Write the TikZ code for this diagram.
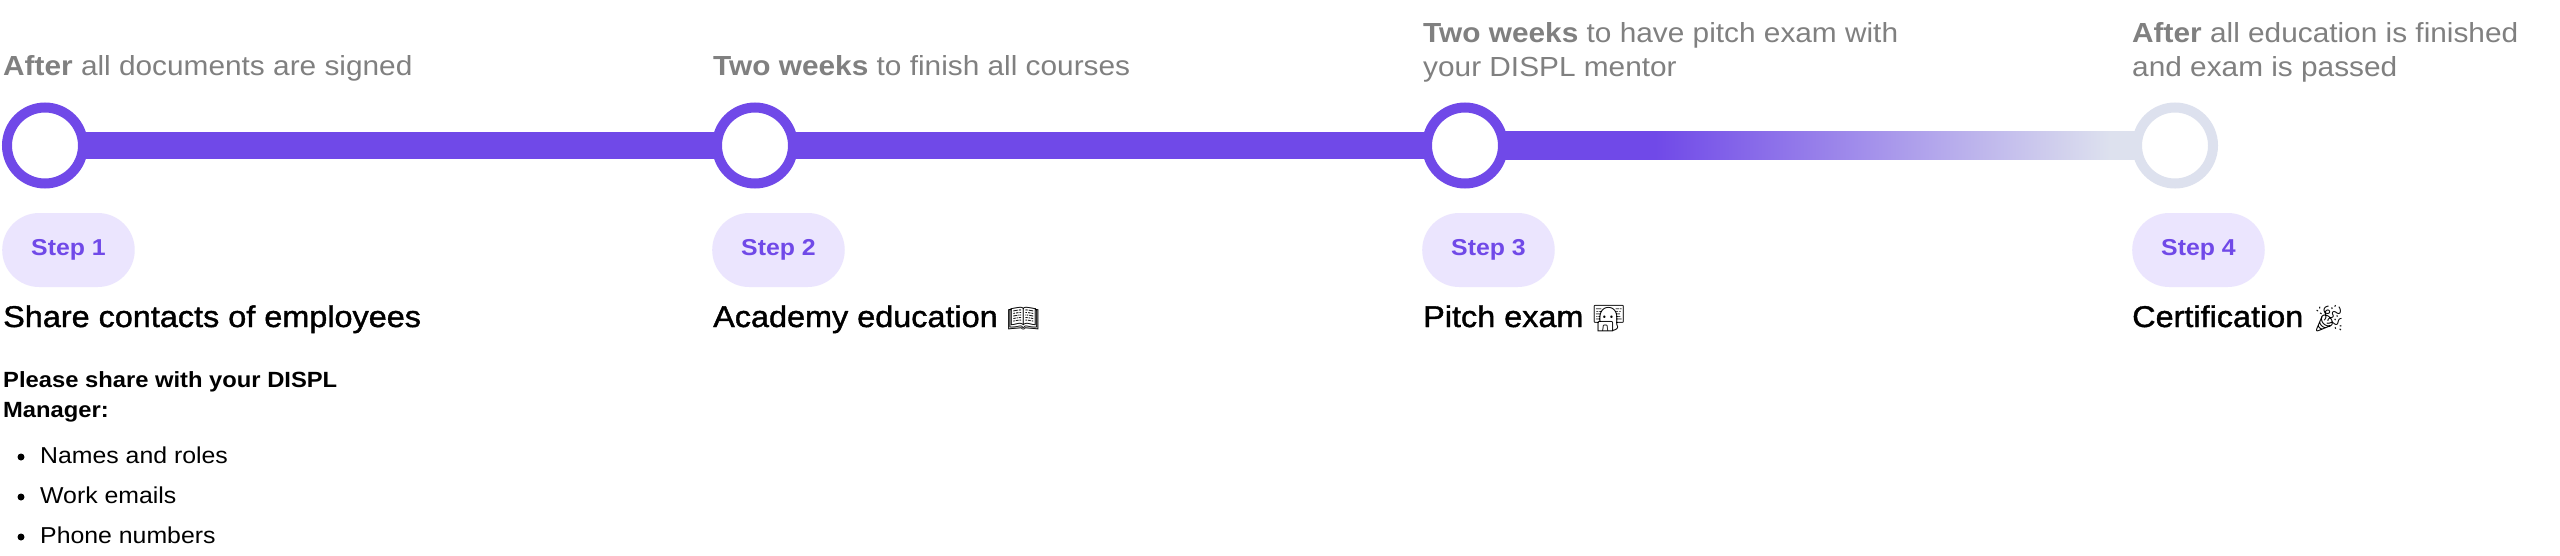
\documentclass[tikz,border=0pt]{standalone}
\usepackage{fontspec}
\setmainfont[FakeStretch=1.08]{Liberation Sans}
\newfontfamily\medfont[FakeStretch=1.08,FakeBold=1.3]{Liberation Sans}
\newfontfamily\emojifont{Noto Emoji}
\usetikzlibrary{calc}
\definecolor{stepviolet}{HTML}{7049E8}
\definecolor{pillfill}{HTML}{EBE5FE}
\definecolor{ringgray}{HTML}{DDE1EE}
\definecolor{graytext}{HTML}{808080}
\pgfdeclarehorizontalshading{barfade}{100bp}{color(0bp)=(stepviolet); color(25bp)=(stepviolet); color(38.4bp)=(stepviolet); color(70.4bp)=(ringgray); color(75bp)=(ringgray); color(100bp)=(ringgray)}
\pgfdeclarelayer{bg}
\pgfsetlayers{bg,main}
\newcommand{\emo}[1]{{\emojifont\fontsize{26}{26}\selectfont #1}}
\begin{document}
\begin{tikzpicture}[x=1pt,y=-1pt,
  ring/.style={circle, draw=stepviolet, line width=10pt, fill=white, minimum size=76pt, inner sep=0pt},
  ringoff/.style={ring, draw=ringgray},
  pill/.style={fill=pillfill, rounded corners=37pt, minimum height=74pt, inner xsep=29pt, inner ysep=0pt, text=stepviolet, font=\bfseries\fontsize{23}{28}\selectfont, anchor=west},
  when/.style={anchor=base west, inner sep=0pt, align=left, text=graytext, font=\fontsize{27.6}{34}\selectfont},
  head/.style={anchor=base west, inner sep=0pt, font=\medfont\fontsize{30}{36}\selectfont},
  body/.style={anchor=base west, inner sep=0pt, align=left, font=\fontsize{23}{30}\selectfont},
  lead/.style={body, font=\bfseries\fontsize{22}{30}\selectfont},
  dot/.style={circle, fill=black, inner sep=0pt, minimum size=7pt},
  bar/.style={line width=27.6pt}]
\useasboundingbox (0,0) rectangle (2560,555);
% rings
\node[ring] (c1) at (45,145.5) {};
\node[ring] (c2) at (755,145.5) {};
\node[ring] (c3) at (1465,145.5) {};
\node[ringoff] (c4) at (2175,145.5) {};
\begin{pgfonlayer}{bg}
\fill[white] (0,0) rectangle (2560,555);
\draw[bar, stepviolet] (c1.center) -- (c2.center) -- (c3.center);
\shade[shading=barfade] ($(c3.center)+(0,-13.8)$) rectangle ($(c4.center)+(0,13.8)$);
\end{pgfonlayer}
% timing texts
\node[when] (t1) at (3,75) {\textbf{After} all documents are signed};
\node[when] (t2) at (713,75) {\textbf{Two weeks} to finish all courses};
\node[when] (t3) at (1423,76) {\textbf{Two weeks} to have pitch exam with\\your DISPL mentor};
\node[when] (t4) at (2132,76) {\textbf{After} all education is finished\\and exam is passed};
% step pills
\node[pill] (s1) at (2,250) {Step 1};
\node[pill] (s2) at (712,250) {Step 2};
\node[pill] (s3) at (1422,250) {Step 3};
\node[pill] (s4) at (2132,250) {Step 4};
% headings
\node[head] (h1) at (3,327) {Share contacts of employees};
\node[head] (h2) at (713,327) {Academy education \emo{📖}};
\node[head] (h3) at (1423,327) {Pitch exam \emo{👨^^^^200d💻}};
\node[head] (h4) at (2132,327) {Certification \emo{🎉}};
% body
\node[lead] (p1) at (3,417) {Please share with your DISPL\\Manager:};
\node[dot] (d1) at (21,457) {};
\node[dot] (d2) at (21,497) {};
\node[dot] (d3) at (21,537) {};
\node[body] (b1) at (40,463) {Names and roles};
\node[body] (b2) at (40,503) {Work emails};
\node[body] (b3) at (40,543) {Phone numbers};
\end{tikzpicture}
\end{document}
